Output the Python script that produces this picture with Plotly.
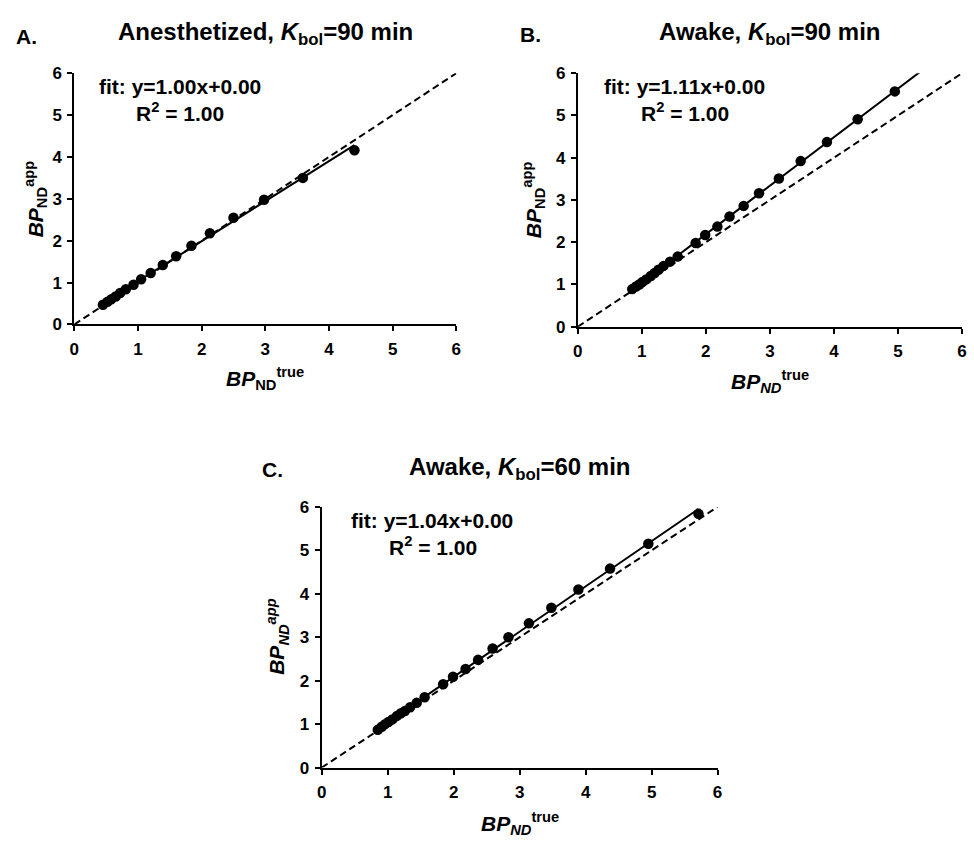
import numpy as np
import plotly.graph_objects as go

W, H = 974, 848

# ---------------- data ----------------
a_true = [0.45, 0.52, 0.58, 0.65, 0.72, 0.81, 0.93, 1.05, 1.20, 1.39, 1.60, 1.84, 2.13, 2.50, 2.98, 3.59, 4.40]
a_app = [0.47, 0.54, 0.60, 0.67, 0.75, 0.84, 0.95, 1.08, 1.23, 1.42, 1.63, 1.88, 2.18, 2.55, 2.98, 3.50, 4.16]

b_true = [0.85, 0.91, 0.96, 1.01, 1.07, 1.14, 1.20, 1.26, 1.34, 1.44, 1.56, 1.84, 1.99, 2.18, 2.37, 2.59,
          2.83, 3.14, 3.48, 3.89, 4.37, 4.95]
b_app = [0.89, 0.95, 1.00, 1.06, 1.12, 1.20, 1.27, 1.35, 1.44, 1.54, 1.66, 1.98, 2.17, 2.37, 2.61, 2.86,
         3.16, 3.51, 3.92, 4.37, 4.91, 5.57]
b_fit_xmax = 5.71

c_true = [0.85, 0.91, 0.96, 1.01, 1.07, 1.14, 1.20, 1.26, 1.34, 1.44, 1.56, 1.84, 1.99, 2.18, 2.37, 2.59,
          2.83, 3.14, 3.48, 3.89, 4.37, 4.95, 5.71]
c_app = [0.87, 0.94, 1.00, 1.05, 1.11, 1.19, 1.25, 1.30, 1.39, 1.49, 1.62, 1.92, 2.09, 2.27, 2.48, 2.74,
         3.00, 3.32, 3.68, 4.10, 4.58, 5.15, 5.84]

identity_x = [0, 6]
axis_ticks = [0, 1, 2, 3, 4, 5, 6]
axis_tick_labels = ["0", "1", "2", "3", "4", "5", "6"]

panel_letters = ["A.", "B.", "C."]
panel_titles = ["Anesthetized, <i>K</i><sub>bol</sub>=90 min",
                "Awake, <i>K</i><sub>bol</sub>=90 min",
                "Awake, <i>K</i><sub>bol</sub>=60 min"]
fit_texts = ["fit: y=1.00x+0.00", "fit: y=1.11x+0.00", "fit: y=1.04x+0.00"]
r2_texts = ["R<sup>2</sup> = 1.00", "R<sup>2</sup> = 1.00", "R<sup>2</sup> = 1.00"]
x_titles = ["<i>BP</i><sub>ND</sub><sup>true</sup>",
            "<i>BP</i><sub><i>ND</i></sub><sup>true</sup>",
            "<i>BP</i><sub><i>ND</i></sub><sup>true</sup>"]
y_titles = ["<i>BP</i><sub>ND</sub><sup>app</sup>",
            "<i>BP</i><sub>ND</sub><sup>app</sup>",
            "<i>BP</i><sub><i>ND</i></sub><sup><i>app</i></sup>"]

FONT = "Liberation Sans, Arial, Helvetica, sans-serif"


def px(x):
    return x / W


def py(y):
    return 1 - y / H


# pixel boxes of the three plot areas: (left, right, top, bottom)
boxes = [(70, 456, 65.7, 322.7), (578.7, 967, 65.7, 325), (320, 720, 509.3, 776)]

fig = go.Figure()
datasets = [(a_true, a_app, max(a_true)), (b_true, b_app, b_fit_xmax), (c_true, c_app, max(c_true))]

for i, ((xs, ys, xmax), box) in enumerate(zip(datasets, boxes)):
    sfx = "" if i == 0 else str(i + 1)
    xa, ya = "x" + sfx, "y" + sfx
    # identity line
    fig.add_trace(go.Scatter(x=identity_x, y=identity_x, mode="lines", xaxis=xa, yaxis=ya,
                             line=dict(color="black", width=2, dash="7px,4px"), showlegend=False,
                             hoverinfo="skip"))
    # linear fit
    slope, icpt = np.polyfit(xs, ys, 1)
    fx = np.array([min(xs), xmax])
    fig.add_trace(go.Scatter(x=fx, y=slope * fx + icpt, mode="lines", xaxis=xa, yaxis=ya,
                             line=dict(color="black", width=2), showlegend=False, hoverinfo="skip"))
    # data points
    fig.add_trace(go.Scatter(x=xs, y=ys, mode="markers", xaxis=xa, yaxis=ya,
                             marker=dict(color="black", size=10.5), showlegend=False, cliponaxis=False))

    l, r, t, b = box
    axcommon = dict(range=[0, 6], tickmode="array", tickvals=axis_ticks,
                    ticktext=["<b>%s</b>" % s for s in axis_tick_labels],
                    showgrid=False, zeroline=False,
                    showline=True, linecolor="black", linewidth=2, ticks="outside", ticklen=5,
                    tickwidth=2, tickcolor="black",
                    tickfont=dict(family=FONT, size=17, color="black"))
    fig.update_layout(**{
        ("xaxis" + sfx): dict(domain=[px(l), px(r)], anchor=ya, ticklabelstandoff=3, **axcommon),
        ("yaxis" + sfx): dict(domain=[py(b), py(t)], anchor=xa, ticklabelstandoff=2, **axcommon),
    })

ann = []


def add_text(text, x, y, size, xanchor="center", yanchor="middle", angle=0):
    ann.append(dict(text="<b>%s</b>" % text, x=px(x), y=py(y), xref="paper", yref="paper",
                    showarrow=False, xanchor=xanchor, yanchor=yanchor, textangle=angle,
                    font=dict(family=FONT, size=size, color="black")))


# panel letters
add_text(panel_letters[0], 22, 28, 21)
add_text(panel_letters[1], 531, 26, 21)
add_text(panel_letters[2], 270, 471, 21)
# titles
add_text(panel_titles[0], 263, 25, 24)
add_text(panel_titles[1], 773, 25, 24)
add_text(panel_titles[2], 520, 470, 24)
# fit texts
add_text(fit_texts[0], 177, 79, 21)
add_text(r2_texts[0], 177, 105, 21)
add_text(fit_texts[1], 687, 79, 21)
add_text(r2_texts[1], 687, 105, 21)
add_text(fit_texts[2], 431, 523, 21)
add_text(r2_texts[2], 432, 549, 21)
# axis titles
add_text(x_titles[0], 263, 378, 21)
add_text(x_titles[1], 773, 381, 21)
add_text(x_titles[2], 520, 833, 21)
add_text(y_titles[0], 31, 194, 21, angle=-90)
add_text(y_titles[1], 534, 195, 21, angle=-90)
add_text(y_titles[2], 275, 642, 21, angle=-90)

fig.update_layout(width=W, height=H, margin=dict(l=0, r=0, t=0, b=0),
                  paper_bgcolor="white", plot_bgcolor="white", annotations=ann,
                  font=dict(family=FONT, color="black"))

fig.write_html("out.html", config={"displayModeBar": False},
               post_script="document.body.style.margin='0';document.body.style.padding='0';"
                           "document.documentElement.style.overflow='hidden';")
